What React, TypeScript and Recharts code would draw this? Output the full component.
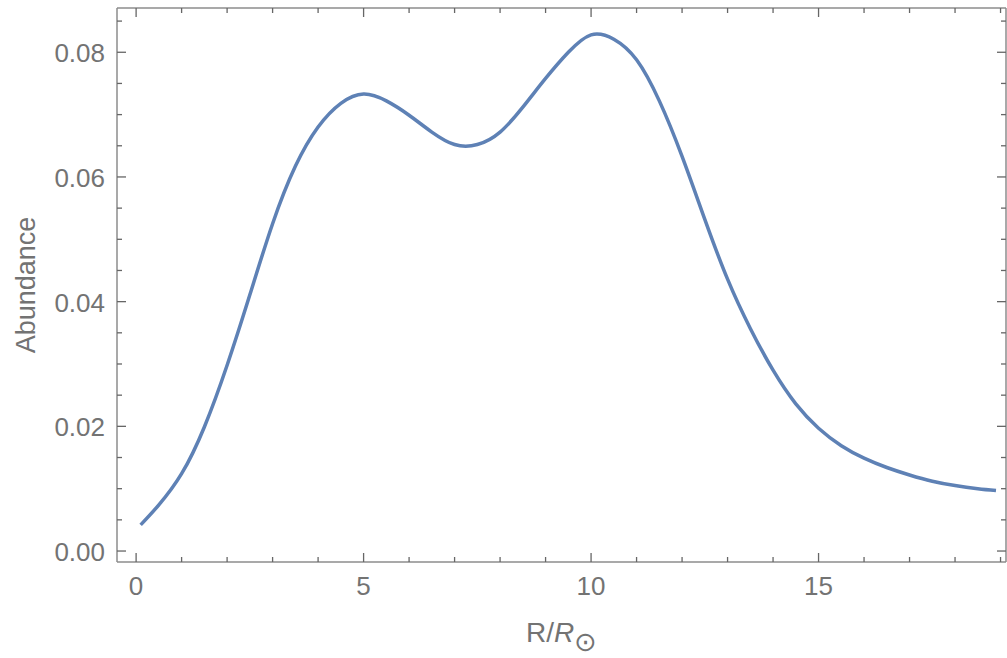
import { Line, LineChart, XAxis, YAxis } from "recharts";

// R / R_sun sample points
const radius = [
  0.1, 0.5, 1, 1.5, 2, 2.5, 3, 3.5, 4, 4.5, 5, 5.5, 6, 6.5, 7, 7.5, 8, 8.5, 9,
  9.5, 10, 10.5, 11, 11.5, 12, 12.5, 13, 13.5, 14, 14.5, 15, 15.5, 16, 16.5,
  17, 17.5, 18, 18.5, 18.9,
];
const abundance = [
  0.0042, 0.0074, 0.0124, 0.0199, 0.0298, 0.0411, 0.0525, 0.0617, 0.068,
  0.0718, 0.0733, 0.0722, 0.0699, 0.0672, 0.0652, 0.0652, 0.0672, 0.0712, 0.0758,
  0.08, 0.0828, 0.0821, 0.0788, 0.0722, 0.0633, 0.0532, 0.0436, 0.0357, 0.029,
  0.0236, 0.0197, 0.0169, 0.0149, 0.0134, 0.0122, 0.0112, 0.0105, 0.01, 0.0097,
];

const xTicks = [0, 1, 2, 3, 4, 5, 6, 7, 8, 9, 10, 11, 12, 13, 14, 15, 16, 17, 18, 19];
const xLabels = [0, 5, 10, 15];
const yTicks = [
  0, 0.005, 0.01, 0.015, 0.02, 0.025, 0.03, 0.035, 0.04, 0.045, 0.05, 0.055,
  0.06, 0.065, 0.07, 0.075, 0.08, 0.085,
];
const yLabels = [0, 0.02, 0.04, 0.06, 0.08];

const data = radius.map((r, i) => ({ r, a: abundance[i] }));

const FRAME = "#8c8c8c";
const TICK = "#666";
const TEXT = "#737373";
const FONT = "'Liberation Sans', Arial, sans-serif";
const X_DOMAIN = [-0.42, 19.12];
const Y_DOMAIN = [-0.00176, 0.0871];

function BottomTick({ x, y, payload }: any) {
  const major = xLabels.includes(payload.value);
  return (
    <g>
      <line x1={x} x2={x} y1={y} y2={y - (major ? 9 : 5)} stroke={TICK} strokeWidth={1.3} />
      {major && (
        <text x={x} y={y + 33} textAnchor="middle" fill={TEXT} fontSize={26} fontFamily={FONT}>
          {payload.value}
        </text>
      )}
    </g>
  );
}

function TopTick({ x, y, payload }: any) {
  const major = xLabels.includes(payload.value);
  return <line x1={x} x2={x} y1={y} y2={y + (major ? 9 : 5)} stroke={TICK} strokeWidth={1.3} />;
}

function LeftTick({ x, y, payload }: any) {
  const major = yLabels.includes(payload.value);
  return (
    <g>
      <line x1={x} x2={x + (major ? 9 : 5)} y1={y} y2={y} stroke={TICK} strokeWidth={1.3} />
      {major && (
        <text x={x - 12} y={y + 10} textAnchor="end" fill={TEXT} fontSize={26} fontFamily={FONT}>
          {payload.value.toFixed(2)}
        </text>
      )}
    </g>
  );
}

function RightTick({ x, y, payload }: any) {
  const major = yLabels.includes(payload.value);
  return <line x1={x} x2={x - (major ? 9 : 5)} y1={y} y2={y} stroke={TICK} strokeWidth={1.3} />;
}

function XLabel({ viewBox }: any) {
  const { x, y, width } = viewBox;
  return (
    <text x={x + width / 2} y={y + 80} textAnchor="middle" fill={TEXT} fontSize={28} fontFamily={FONT}>
      <tspan>R/</tspan>
      <tspan fontStyle="italic">R</tspan>
      <tspan fontSize={27} dy={9} fontFamily="'DejaVu Sans', sans-serif">⊙</tspan>
    </text>
  );
}

function YLabel({ viewBox }: any) {
  const { x, y, height } = viewBox;
  const cx = x + 35;
  const cy = y + height / 2;
  return (
    <text
      x={cx}
      y={cy}
      transform={`rotate(-90 ${cx} ${cy})`}
      textAnchor="middle"
      fill={TEXT}
      fontSize={27}
      fontFamily={FONT}
    >
      Abundance
    </text>
  );
}

export default function App() {
  return (
    <div style={{ position: "absolute", left: 0, top: 0, background: "#fff" }}>
      <LineChart width={1007} height={658} data={data} margin={{ top: 7, right: 0, left: 0, bottom: 0 }}>
        <XAxis
          xAxisId="b"
          dataKey="r"
          type="number"
          domain={X_DOMAIN}
          allowDataOverflow
          ticks={xTicks}
          interval={0}
          height={96}
          tickSize={0}
          tickMargin={0}
          tickLine={false}
          tick={BottomTick}
          axisLine={{ stroke: FRAME, strokeWidth: 1.5 }}
          label={XLabel}
        />
        <XAxis
          xAxisId="t"
          orientation="top"
          dataKey="r"
          type="number"
          domain={X_DOMAIN}
          allowDataOverflow
          ticks={xTicks}
          interval={0}
          height={1}
          tickSize={0}
          tickMargin={0}
          tickLine={false}
          tick={TopTick}
          axisLine={{ stroke: FRAME, strokeWidth: 1.5 }}
        />
        <YAxis
          yAxisId="l"
          type="number"
          domain={Y_DOMAIN}
          allowDataOverflow
          ticks={yTicks}
          interval={0}
          width={117}
          tickSize={0}
          tickMargin={0}
          tickLine={false}
          tick={LeftTick}
          axisLine={{ stroke: FRAME, strokeWidth: 1.5 }}
          label={YLabel}
        />
        <YAxis
          yAxisId="r"
          orientation="right"
          type="number"
          domain={Y_DOMAIN}
          allowDataOverflow
          ticks={yTicks}
          interval={0}
          width={1}
          tickSize={0}
          tickMargin={0}
          tickLine={false}
          tick={RightTick}
          axisLine={{ stroke: FRAME, strokeWidth: 1.5 }}
        />
        <Line
          xAxisId="b"
          yAxisId="l"
          type="natural"
          dataKey="a"
          stroke="#5e81b5"
          strokeWidth={3.5}
          dot={false}
          isAnimationActive={false}
        />
        {/* invisible twin so the top/right frame axes have a series */}
        <Line
          xAxisId="t"
          yAxisId="r"
          type="natural"
          dataKey="a"
          stroke="none"
          dot={false}
          activeDot={false}
          legendType="none"
          isAnimationActive={false}
        />
      </LineChart>
    </div>
  );
}
